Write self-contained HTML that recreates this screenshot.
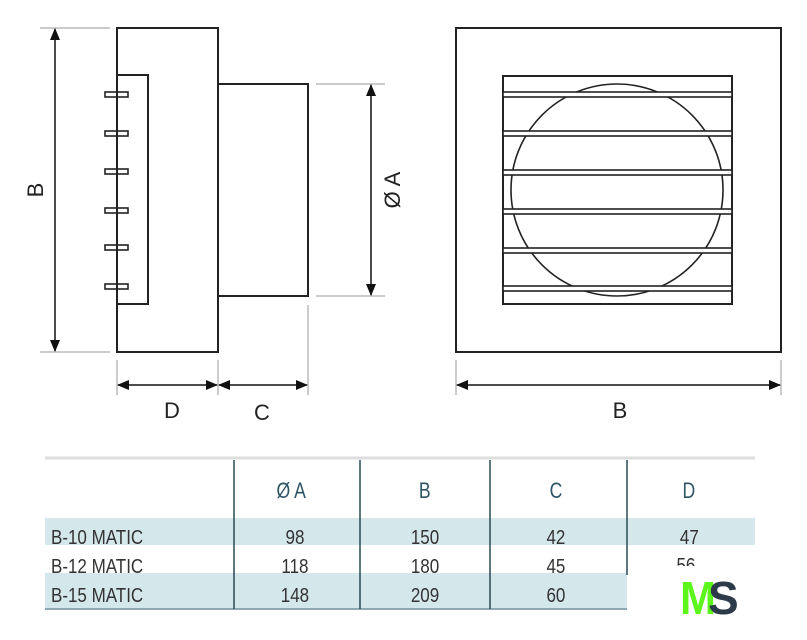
<!DOCTYPE html>
<html><head><meta charset="utf-8"><style>
body{margin:0;width:807px;height:640px;background:#fff;overflow:hidden;font-family:"Liberation Sans",sans-serif}
svg{position:absolute;left:0;top:0}
</style></head><body>
<svg width="807" height="640" xmlns="http://www.w3.org/2000/svg">
<defs><marker id="a" markerWidth="12" markerHeight="10" refX="11" refY="5" orient="auto-start-reverse" markerUnits="userSpaceOnUse"><path d="M0,0 L12,5 L0,10 Z" fill="#111"/></marker></defs>
<g fill="none" stroke="#222" stroke-width="2">
<rect x="117" y="28" width="101" height="324"/>
<rect x="117" y="75" width="31" height="229"/>
<rect x="218" y="84" width="90" height="212"/>
<g stroke-width="1.6">
<rect x="105" y="92" width="23" height="5"/><rect x="105" y="131" width="23" height="5"/><rect x="105" y="169" width="23" height="5"/><rect x="105" y="208" width="23" height="5"/><rect x="105" y="245" width="23" height="5"/><rect x="105" y="284" width="23" height="5"/>
</g>
<rect x="456" y="28" width="325" height="324"/>
<circle cx="617" cy="190" r="106" stroke-width="1.6"/>
<rect x="503" y="76" width="229" height="228" stroke-width="2"/>
</g>
<g fill="#fff" stroke="#222" stroke-width="1.6">
<rect x="503" y="92" width="229" height="5"/><rect x="503" y="131" width="229" height="5"/><rect x="503" y="170" width="229" height="5"/><rect x="503" y="209" width="229" height="5"/><rect x="503" y="248" width="229" height="5"/><rect x="503" y="286" width="229" height="5"/>
</g>
<g stroke="#999" stroke-width="1">
<line x1="40" y1="28" x2="110" y2="28"/><line x1="40" y1="352" x2="110" y2="352"/>
<line x1="316" y1="84" x2="385" y2="84"/><line x1="316" y1="296" x2="385" y2="296"/>
<line x1="117" y1="360" x2="117" y2="395"/><line x1="218" y1="360" x2="218" y2="395"/><line x1="308" y1="305" x2="308" y2="395"/>
<line x1="456" y1="360" x2="456" y2="395"/><line x1="781" y1="360" x2="781" y2="395"/>
</g>
<g stroke="#111" stroke-width="1.5" marker-start="url(#a)" marker-end="url(#a)">
<line x1="55" y1="29" x2="55" y2="351"/>
<line x1="371" y1="85" x2="371" y2="295"/>
<line x1="118" y1="385" x2="217" y2="385"/>
<line x1="219" y1="385" x2="307" y2="385"/>
<line x1="457" y1="385" x2="780" y2="385"/>
</g>
<g font-size="22" fill="#222">
<text x="172" y="418" text-anchor="middle">D</text>
<text x="262" y="420" text-anchor="middle">C</text>
<text x="620" y="418" text-anchor="middle">B</text>
<text transform="translate(43,190) rotate(-90)" text-anchor="middle">B</text>
<text transform="translate(400,190) rotate(-90)" text-anchor="middle">Ø A</text>
</g>
<line x1="45" y1="458" x2="755" y2="458" stroke="#ddd" stroke-width="3"/>
<rect x="45" y="518" width="710" height="27" fill="#d4e7eb"/>
<text x="807" y="572" font-size="20" fill="#333" text-anchor="middle" transform="scale(0.85,1)">56</text>
<rect x="628" y="566" width="130" height="14" fill="#fff"/>
<rect x="45" y="573" width="582" height="35" fill="#d4e7eb"/>
<line x1="45" y1="609" x2="627" y2="609" stroke="#8fa9b2" stroke-width="2"/>
<g stroke="#2a4a55" stroke-width="1.5">
<line x1="234" y1="460" x2="234" y2="609"/><line x1="360" y1="460" x2="360" y2="609"/><line x1="490" y1="460" x2="490" y2="609"/><line x1="627" y1="460" x2="627" y2="575"/>
</g>
<g font-size="22" fill="#2d5563" text-anchor="middle" transform="scale(0.8,1)">
<text x="364" y="498">Ø A</text><text x="531" y="498">B</text><text x="695" y="498">C</text><text x="861" y="498">D</text>
</g>
<g font-size="20" fill="#333" transform="scale(0.85,1)">
<text x="60" y="544">B-10 MATIC</text><text x="60" y="573">B-12 MATIC</text><text x="60" y="602">B-15 MATIC</text>
<g text-anchor="middle">
<text x="347" y="544">98</text><text x="500" y="544">150</text><text x="654" y="544">42</text><text x="811" y="544">47</text>
<text x="347" y="573">118</text><text x="500" y="573">180</text><text x="654" y="573">45</text>
<text x="347" y="602">148</text><text x="500" y="602">209</text><text x="654" y="602">60</text>
</g></g>
<text x="680" y="614" font-size="46" font-weight="bold" fill="#5cf51c" textLength="36" lengthAdjust="spacingAndGlyphs">M</text>
<text x="708" y="614" font-size="46" font-weight="bold" fill="#2c3a4a">S</text>
</svg>
</body></html>
